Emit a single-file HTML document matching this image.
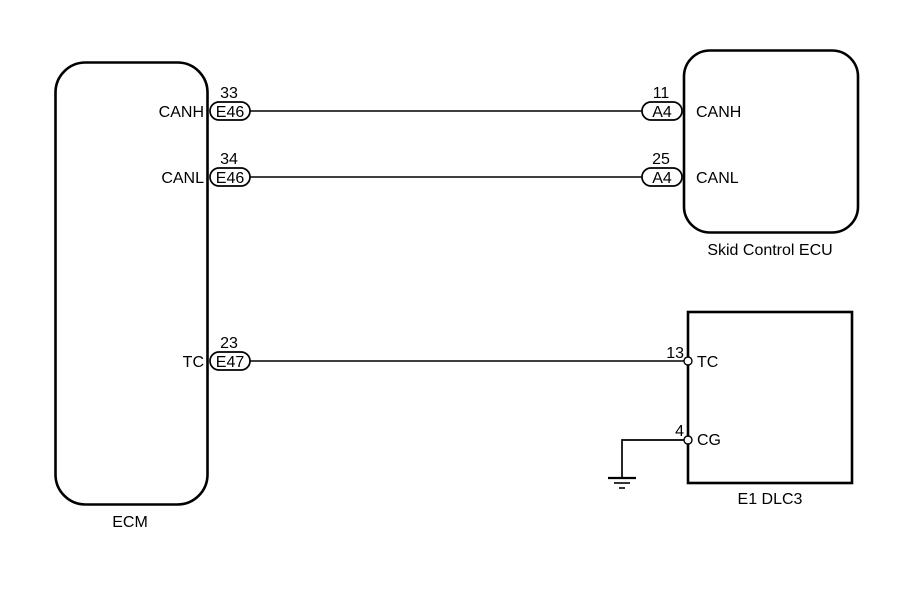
<!DOCTYPE html>
<html><head><meta charset="utf-8"><style>
html,body{margin:0;padding:0;background:#fff;}
svg{display:block;}
text{font-family:"Liberation Sans",Arial,sans-serif;font-size:16px;fill:#000;}
</style></head><body>
<svg width="907" height="610" viewBox="0 0 907 610" xmlns="http://www.w3.org/2000/svg">
<g fill="none" stroke="#000">
<rect x="55.5" y="62.5" width="152" height="442" rx="30" stroke-width="2.6"/>
<rect x="684" y="50.5" width="174" height="182" rx="26" stroke-width="2.6"/>
<rect x="688" y="312" width="164" height="171" stroke-width="2.6"/>
<line x1="250" y1="111" x2="643" y2="111" stroke-width="1.5"/>
<line x1="250" y1="177" x2="643" y2="177" stroke-width="1.5"/>
<line x1="250" y1="361" x2="685" y2="361" stroke-width="1.5"/>
<polyline points="685,440 622,440 622,478" stroke-width="1.7"/>
<line x1="608" y1="478" x2="636" y2="478" stroke-width="2.2"/>
<line x1="614" y1="483" x2="630" y2="483" stroke-width="1.6"/>
<line x1="619" y1="488" x2="625" y2="488" stroke-width="1.6"/>
<rect x="210" y="102" width="40" height="18" rx="9" stroke-width="1.7" fill="#fff"/>
<rect x="210" y="168" width="40" height="18" rx="9" stroke-width="1.7" fill="#fff"/>
<rect x="210" y="352" width="40" height="18" rx="9" stroke-width="1.7" fill="#fff"/>
<rect x="642" y="102" width="40" height="18" rx="9" stroke-width="1.7" fill="#fff"/>
<rect x="642" y="168" width="40" height="18" rx="9" stroke-width="1.7" fill="#fff"/>
<circle cx="688" cy="361" r="4" stroke-width="1.4" fill="#fff"/>
<circle cx="688" cy="440" r="4" stroke-width="1.4" fill="#fff"/>
</g>
<text x="230" y="117" text-anchor="middle">E46</text>
<text x="230" y="183" text-anchor="middle">E46</text>
<text x="230" y="367" text-anchor="middle">E47</text>
<text x="662" y="117" text-anchor="middle">A4</text>
<text x="662" y="183" text-anchor="middle">A4</text>
<text x="229" y="98" text-anchor="middle">33</text>
<text x="229" y="164" text-anchor="middle">34</text>
<text x="229" y="348" text-anchor="middle">23</text>
<text x="661" y="98" text-anchor="middle">11</text>
<text x="661" y="164" text-anchor="middle">25</text>
<text x="684" y="358" text-anchor="end">13</text>
<text x="684" y="436" text-anchor="end">4</text>
<text x="204" y="117" text-anchor="end">CANH</text>
<text x="204" y="183" text-anchor="end">CANL</text>
<text x="204" y="367" text-anchor="end">TC</text>
<text x="696" y="117">CANH</text>
<text x="696" y="183">CANL</text>
<text x="697" y="367">TC</text>
<text x="697" y="445">CG</text>
<text x="130" y="527" text-anchor="middle">ECM</text>
<text x="770" y="255" text-anchor="middle">Skid Control ECU</text>
<text x="770" y="504" text-anchor="middle">E1  DLC3</text>
</svg>
</body></html>
